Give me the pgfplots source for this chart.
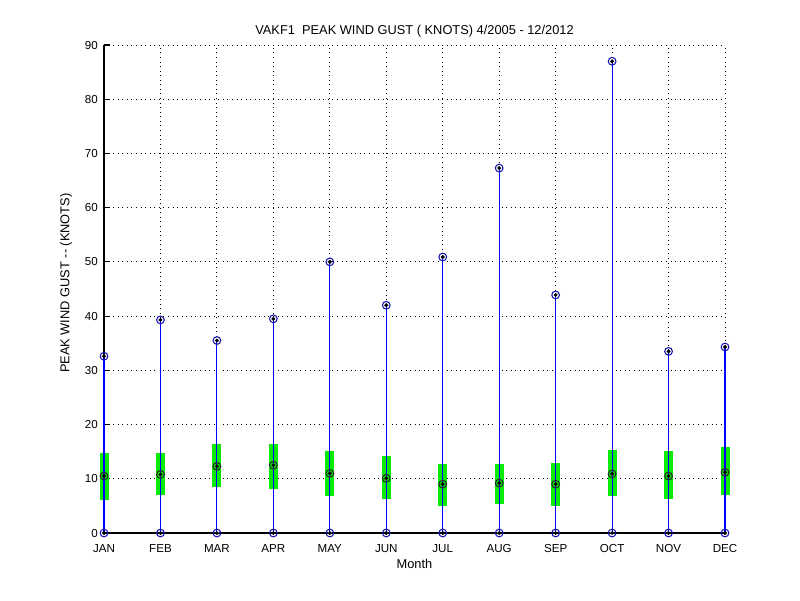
\documentclass[border=0pt]{standalone}
\usepackage{pgfplots}
\pgfplotsset{compat=1.18}
\usepackage{fontspec}
\setmainfont{Liberation Sans}
\definecolor{mblue}{RGB}{0,0,255}
\definecolor{mgreen}{RGB}{10,235,10}
\definecolor{mnavy}{RGB}{20,20,170}

\begin{document}
\begin{tikzpicture}
\path (0,0) rectangle (16cm,12cm);
\begin{axis}[
    set layers,
    at={(2.08cm,1.34cm)}, anchor=south west,
    scale only axis,
    width=12.42cm, height=9.76cm,
    xmin=1, xmax=12, ymin=0, ymax=90,
    xtick={1,...,12},
    xticklabels={JAN,FEB,MAR,APR,MAY,JUN,JUL,AUG,SEP,OCT,NOV,DEC},
    ytick={0,10,...,90},
    axis x line*=bottom, axis y line*=left,
    axis line style={black, line width=0.6pt},
    tick align=inside, major tick length=0.11cm,
    tick style={black, line width=0.6pt},
    grid=major,
    major grid style={black, line width=0.5pt, dash pattern=on 0.5pt off 2.1pt},
    clip=false,
    /pgf/number format/assume math mode=true,
    ticklabel style={font=\fontsize{6.6}{8}\selectfont},
    xticklabel style={yshift=-0.1cm},
    label style={font=\fontsize{7.3}{9}\selectfont},
    xlabel={Month},
    xlabel style={at={(axis description cs:0.5,-0.072)}, anchor=base},
    ylabel={PEAK WIND GUST -{}- (KNOTS)},
    ylabel style={at={(axis description cs:-0.061,0.512)}, anchor=center},
    unbounded coords=jump,
]

% white underlay that hides the dotted grid behind the range lines
\addplot[ycomb, white, line width=2pt, no markers] coordinates {
    (2,39.3) (3,35.5) (4,39.5) (5,50.0) (6,42.0)
    (7,50.9) (8,67.3) (9,43.9) (10,87.0) (11,33.5) (12,34.3)
};

% interquartile bars
\addplot[mgreen, line width=0.18cm, no markers] coordinates {
    (1,6.1) (1,14.7) (1,nan)
    (2,7.1) (2,14.7) (2,nan)
    (3,8.4) (3,16.5) (3,nan)
    (4,8.2) (4,16.5) (4,nan)
    (5,6.9) (5,15.1) (5,nan)
    (6,6.3) (6,14.2) (6,nan)
    (7,5.0) (7,12.7) (7,nan)
    (8,5.4) (8,12.7) (8,nan)
    (9,5.0) (9,12.9) (9,nan)
    (10,6.9) (10,15.3) (10,nan)
    (11,6.3) (11,15.1) (11,nan)
    (12,7.1) (12,15.9)
};

% range lines from 0 to max
\addplot[ycomb, mblue, line width=0.6pt, no markers] coordinates {
    (1,32.6) (2,39.3) (3,35.5) (4,39.5) (5,50.0) (6,42.0)
    (7,50.9) (8,67.3) (9,43.9) (10,87.0) (11,33.5) (12,34.3)
};

% min and max markers
\addplot[only marks, mark=o, mark size=2.2pt, mark options={mnavy, line width=0.6pt}] coordinates {
    (1,0) (2,0) (3,0) (4,0) (5,0) (6,0) (7,0) (8,0) (9,0) (10,0) (11,0) (12,0)
    (1,32.6) (2,39.3) (3,35.5) (4,39.5) (5,50.0) (6,42.0)
    (7,50.9) (8,67.3) (9,43.9) (10,87.0) (11,33.5) (12,34.3)
};

% mean markers
\addplot[only marks, mark=o, mark size=2.2pt, mark options={black!85, line width=0.6pt}] coordinates {
    (1,10.5) (2,10.8) (3,12.3) (4,12.5) (5,11.0) (6,10.1)
    (7,9.0) (8,9.2) (9,9.0) (10,10.9) (11,10.5) (12,11.2)
};

% centre dots
\addplot[only marks, mark=*, mark size=0.9pt, mark options={black}] coordinates {
    (1,0) (2,0) (3,0) (4,0) (5,0) (6,0) (7,0) (8,0) (9,0) (10,0) (11,0) (12,0)
    (1,32.6) (2,39.3) (3,35.5) (4,39.5) (5,50.0) (6,42.0)
    (7,50.9) (8,67.3) (9,43.9) (10,87.0) (11,33.5) (12,34.3)
    (1,10.5) (2,10.8) (3,12.3) (4,12.5) (5,11.0) (6,10.1)
    (7,9.0) (8,9.2) (9,9.0) (10,10.9) (11,10.5) (12,11.2)
};

\node[anchor=base, font=\fontsize{7.3}{9}\selectfont] at (axis description cs:0.5,1.021)
    {VAKF1\ \ PEAK WIND GUST ( KNOTS) 4/2005 - 12/2012};
\end{axis}
\end{tikzpicture}
\end{document}
